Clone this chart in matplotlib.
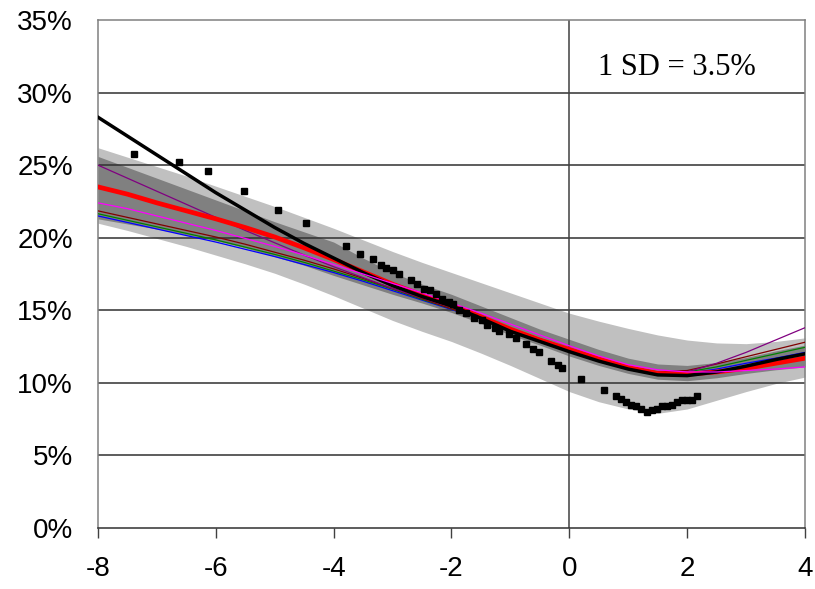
import numpy as np
import matplotlib
matplotlib.use("Agg")
import matplotlib.pyplot as plt

plt.rcParams['font.family'] = ['Liberation Sans', 'DejaVu Sans']

# Eje x comun para bandas y curvas (paso de 0.5)
x = np.arange(-8, 4.01, 0.5)

# Banda de 1 SD (gris claro) y banda interior (gris oscuro), en %
banda_clara_sup = [26.2, 25.55, 24.9, 24.25, 23.55, 22.85, 22.15, 21.4, 20.65, 19.85,
                   19.05, 18.3, 17.6, 16.9, 16.2, 15.5, 14.8, 14.25, 13.75, 13.3,
                   12.95, 12.75, 12.7, 12.85, 13.1]
banda_clara_inf = [21.0, 20.5, 19.95, 19.4, 18.8, 18.2, 17.55, 16.8, 16.0, 15.15,
                   14.3, 13.55, 12.85, 12.05, 11.2, 10.3, 9.4, 8.7, 8.2, 7.9,
                   8.2, 8.8, 9.4, 9.95, 10.4]
banda_oscura_sup = [25.6, 24.85, 24.1, 23.35, 22.6, 21.85, 21.1, 20.4, 19.7, 18.6,
                    17.6, 16.8, 16.1, 15.3, 14.5, 13.7, 13.0, 12.3, 11.7, 11.3,
                    11.2, 11.4, 11.75, 12.2, 12.6]
banda_oscura_inf = [21.3, 20.95, 20.6, 20.2, 19.8, 19.3, 18.7, 18.1, 17.4, 16.75,
                    16.1, 15.5, 14.85, 14.1, 13.3, 12.6, 11.85, 11.2, 10.65, 10.25,
                    10.15, 10.35, 10.65, 10.9, 11.1]

# Curvas de los modelos
curva_negra = [28.3, 27.0, 25.7, 24.4, 23.1, 21.9, 20.7, 19.6, 18.6, 17.6,
               16.7, 15.95, 15.3, 14.45, 13.55, 12.85, 12.15, 11.5, 10.95, 10.55,
               10.5, 10.75, 11.15, 11.6, 12.0]
curva_roja = [23.5, 23.0, 22.4, 21.85, 21.3, 20.7, 20.05, 19.3, 18.5, 17.65,
              16.8, 16.05, 15.35, 14.55, 13.7, 12.95, 12.3, 11.65, 11.05, 10.65,
              10.6, 10.75, 11.0, 11.35, 11.7]
curva_morada = [25.0, 24.1, 23.2, 22.3, 21.4, 20.5, 19.65, 18.8, 18.0, 17.25,
                16.5, 15.85, 15.2, 14.5, 13.75, 13.05, 12.35, 11.7, 11.1, 10.7,
                10.75, 11.35, 12.1, 12.95, 13.8]
curva_magenta = [22.4, 22.0, 21.5, 21.0, 20.5, 19.95, 19.4, 18.8, 18.15, 17.5,
                 16.85, 16.2, 15.5, 14.8, 14.05, 13.3, 12.55, 11.85, 11.25, 10.9,
                 10.75, 10.75, 10.85, 10.95, 11.1]
curva_azul = [21.5, 21.05, 20.6, 20.15, 19.7, 19.2, 18.7, 18.15, 17.6, 17.0,
              16.35, 15.7, 15.05, 14.4, 13.7, 13.0, 12.3, 11.65, 11.05, 10.65,
              10.65, 10.95, 11.35, 11.7, 12.1]
curva_verde = [21.65, 21.2, 20.75, 20.3, 19.85, 19.35, 18.85, 18.3, 17.7, 17.1,
               16.45, 15.75, 15.1, 14.4, 13.7, 13.0, 12.3, 11.65, 11.05, 10.7,
               10.75, 11.1, 11.55, 12.0, 12.45]
curva_granate = [21.85, 21.4, 20.95, 20.5, 20.05, 19.55, 19.0, 18.45, 17.85, 17.2,
                 16.5, 15.8, 15.1, 14.4, 13.7, 13.0, 12.3, 11.65, 11.1, 10.75,
                 10.85, 11.3, 11.8, 12.3, 12.8]

# Datos observados (cuadrados negros)
obs_x = [-7.39, -6.62, -6.13, -5.53, -4.94, -4.47, -3.79, -3.55, -3.34, -3.19,
         -3.11, -3.00, -2.89, -2.68, -2.58, -2.46, -2.36, -2.26, -2.16, -2.05,
         -1.98, -1.87, -1.75, -1.61, -1.49, -1.39, -1.27, -1.19, -1.02, -0.90,
         -0.73, -0.61, -0.51, -0.31, -0.20, -0.12, 0.20, 0.58, 0.79, 0.88,
         0.97, 1.05, 1.14, 1.22, 1.32, 1.41, 1.49, 1.58, 1.66, 1.75,
         1.83, 1.92, 2.00, 2.09, 2.17]
obs_y = [25.8, 25.2, 24.6, 23.2, 21.9, 21.0, 19.4, 18.9, 18.5, 18.1,
         17.9, 17.8, 17.5, 17.1, 16.8, 16.5, 16.4, 16.1, 15.8, 15.6,
         15.4, 15.0, 14.8, 14.5, 14.3, 14.0, 13.8, 13.6, 13.4, 13.1,
         12.7, 12.3, 12.1, 11.5, 11.2, 11.0, 10.3, 9.5, 9.1, 8.9,
         8.7, 8.5, 8.4, 8.2, 8.0, 8.1, 8.2, 8.4, 8.4, 8.5,
         8.7, 8.8, 8.8, 8.8, 9.1]

ticks_x = [-8, -6, -4, -2, 0, 2, 4]
ticks_y = [0, 5, 10, 15, 20, 25, 30, 35]
etiquetas_y = ['0%', '5%', '10%', '15%', '20%', '25%', '30%', '35%']

fig = plt.figure(figsize=(8.15, 5.89), dpi=100)
ax = fig.add_axes([98 / 815, 1 - 528 / 589, 707 / 815, 508 / 589])

# Bandas
ax.fill_between(x, banda_clara_inf, banda_clara_sup, color='#C0C0C0', lw=0, zorder=1)
ax.fill_between(x, banda_oscura_inf, banda_oscura_sup, color='#808080', lw=0, zorder=1.2)

# Rejilla horizontal y linea vertical en x=0
for t in ticks_y[1:-1]:
    ax.axhline(t, color='#303030', lw=1.1, zorder=1.5)
ax.axvline(0, color='#404040', lw=1.1, zorder=1.5)

# Curvas finas
ax.plot(x, curva_azul, color='#0000FF', lw=0.9, zorder=3)
ax.plot(x, curva_verde, color='#008000', lw=0.9, zorder=3)
ax.plot(x, curva_granate, color='#800000', lw=0.9, zorder=3)
ax.plot(x, curva_morada, color='#800080', lw=0.9, zorder=3)
# Curvas gruesas
ax.plot(x, curva_roja, color='#FF0000', lw=3.4, zorder=4)
ax.plot(x, curva_negra, color='black', lw=2.5, zorder=5)
ax.plot(x, curva_magenta, color='#FF00FF', lw=0.9, zorder=5.5)

ax.plot(obs_x, obs_y, 's', color='black', markersize=5, zorder=6)

ax.text(1.83, 31.2, '1 SD = 3.5%', family='Liberation Serif', fontsize=22,
        ha='center', va='baseline', zorder=7)

ax.set_xlim(-8, 4)
ax.set_ylim(0, 35)
ax.set_xticks(ticks_x)
ax.set_xticklabels([str(t) for t in ticks_x])
ax.set_yticks(ticks_y)
ax.set_yticklabels(etiquetas_y)
ax.tick_params(axis='x', direction='out', length=7.5, width=1, color='#404040',
               labelsize=20, pad=13)
ax.tick_params(axis='y', length=0, labelsize=20, pad=18)

for lado in ['top', 'left', 'right']:
    ax.spines[lado].set_color('#808080')
    ax.spines[lado].set_linewidth(1.1)
ax.spines['bottom'].set_color('#303030')
ax.spines['bottom'].set_linewidth(1.1)

fig.savefig('out.png', dpi=100)
